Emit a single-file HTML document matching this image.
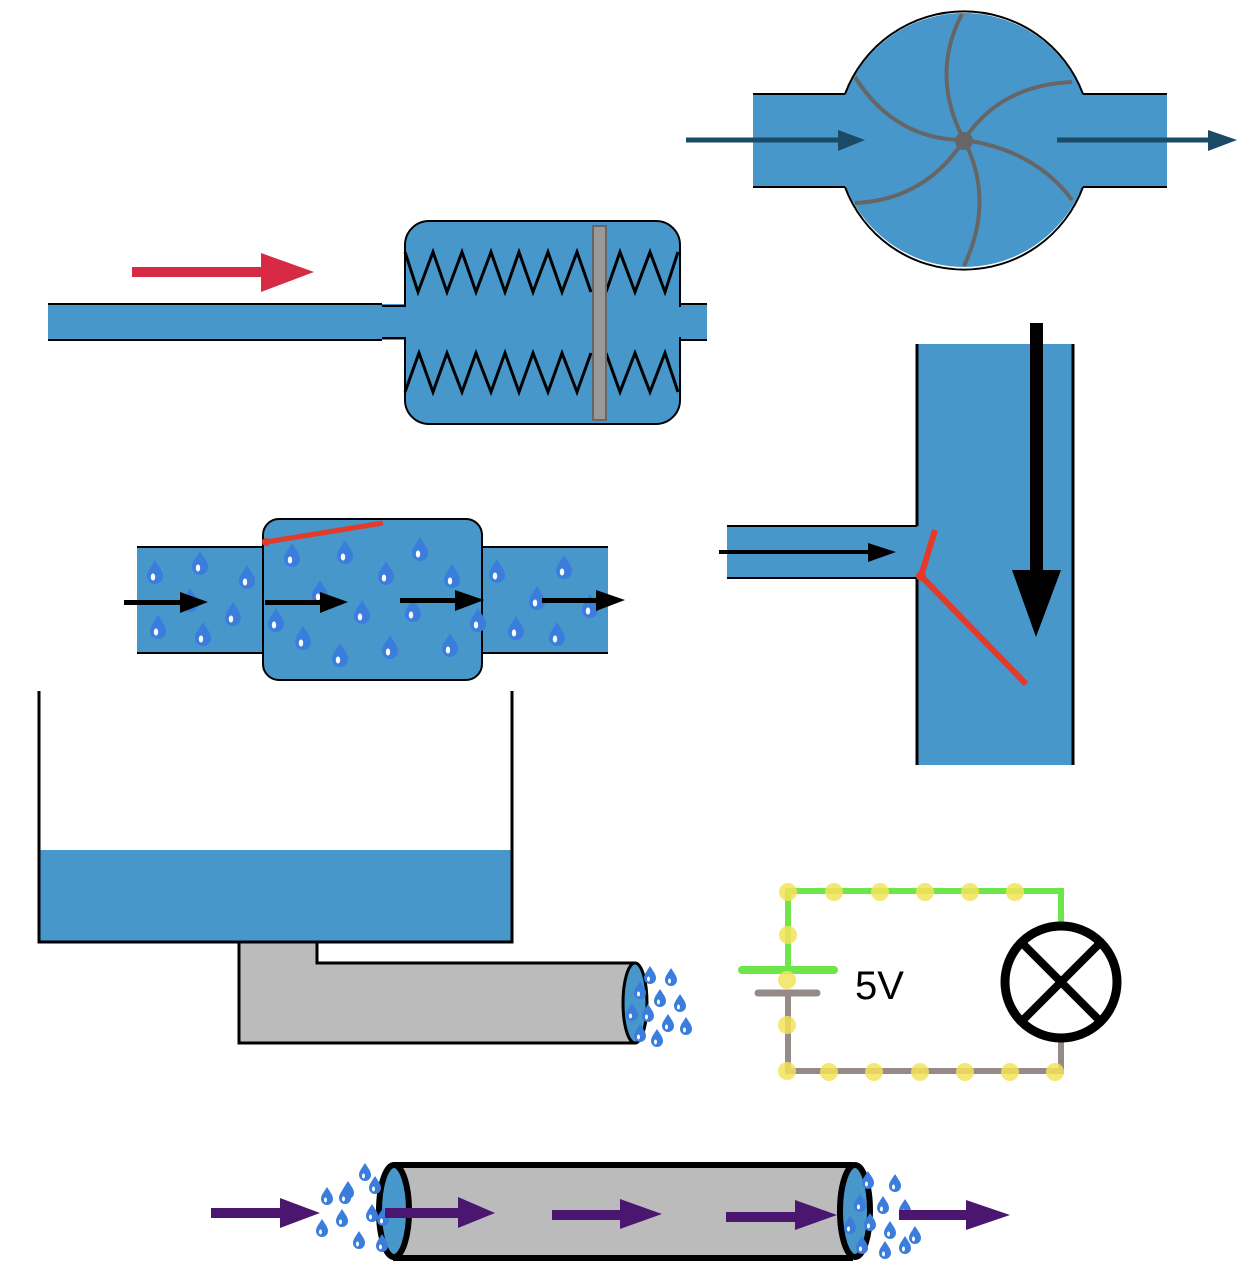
<!DOCTYPE html>
<html><head><meta charset="utf-8"><style>html,body{margin:0;padding:0;background:#fff}svg{display:block}</style></head>
<body>
<svg width="1250" height="1274" viewBox="0 0 1250 1274" xmlns="http://www.w3.org/2000/svg">
<defs>
<g id="d"><path d="M0,-12 C4,-5 8,-1 8,4 A8,8 0 0 1 -8,4 C-8,-1 -4,-5 0,-12 Z" fill="#3b7ddd"/><ellipse cx="-2" cy="5" rx="2.2" ry="3.5" fill="#fff"/></g>
<g id="s"><path d="M0,-9 C3,-4 6,-1 6,3 A6,6 0 0 1 -6,3 C-6,-1 -3,-4 0,-9 Z" fill="#3b7ddd"/><ellipse cx="-1.5" cy="4" rx="1.5" ry="2.5" fill="#fff"/></g>
</defs>
<!-- pump -->
<rect x="753" y="94" width="414" height="93" fill="#4797cb"/>
<line x1="753" y1="94" x2="845" y2="94" stroke="#000" stroke-width="2"/>
<line x1="753" y1="187" x2="845" y2="187" stroke="#000" stroke-width="2"/>
<line x1="1083" y1="94" x2="1167" y2="94" stroke="#000" stroke-width="2"/>
<line x1="1083" y1="187" x2="1167" y2="187" stroke="#000" stroke-width="2"/>
<circle cx="964" cy="140" r="127" fill="#4797cb"/>
<path d="M845,94 A127,127 0 0 1 1083,94" fill="none" stroke="#000" stroke-width="2"/>
<path d="M845,187 A127,127 0 0 0 1083,187" fill="none" stroke="#000" stroke-width="2"/>
<g fill="none" stroke="#666" stroke-width="4">
<path d="M964,140 Q930,75 962,14"/>
<path d="M964,140 Q1000,85 1072,82"/>
<path d="M964,140 Q1035,150 1072,200"/>
<path d="M964,140 Q995,200 964,266"/>
<path d="M964,140 Q925,200 855,203"/>
<path d="M964,140 Q895,140 855,77"/>
</g>
<circle cx="964" cy="141" r="9" fill="#666"/>
<line x1="686" y1="140" x2="845" y2="140" stroke="#1a4a66" stroke-width="5"/>
<polygon points="838,130 865,140 838,151" fill="#1a4a66"/>
<line x1="1057" y1="140" x2="1215" y2="140" stroke="#1a4a66" stroke-width="5"/>
<polygon points="1208,130 1237,140 1208,151" fill="#1a4a66"/>
<!-- damper -->
<rect x="48" y="304" width="360" height="36" fill="#4797cb"/>
<line x1="48" y1="304" x2="382" y2="304" stroke="#000" stroke-width="2"/>
<line x1="48" y1="340" x2="382" y2="340" stroke="#000" stroke-width="2"/>
<line x1="382" y1="306" x2="405" y2="306" stroke="#000" stroke-width="2"/>
<line x1="382" y1="338" x2="405" y2="338" stroke="#000" stroke-width="2"/>
<rect x="678" y="304" width="29" height="36" fill="#4797cb"/>
<line x1="680" y1="304" x2="707" y2="304" stroke="#000" stroke-width="2"/>
<line x1="680" y1="340" x2="707" y2="340" stroke="#000" stroke-width="2"/>
<rect x="405" y="221" width="275" height="203" rx="24" fill="#4797cb" stroke="#000" stroke-width="2"/>
<rect x="404" y="307" width="277" height="30" fill="#4797cb"/>
<g fill="none" stroke="#000" stroke-width="3" stroke-linejoin="miter">
<polyline points="405,252 418,292 433,252 447,292 462,252 476,292 491,252 505,292 519,252 533,292 548,252 562,292 577,252 591,292"/>
<polyline points="606,292 620,252 635,292 650,252 665,292 678,252"/>
<polyline points="405,392 419,353 433,392 447,353 462,392 476,353 491,392 505,353 519,392 533,353 548,392 562,353 577,392 591,353"/>
<polyline points="606,353 620,392 635,353 650,392 665,353 678,392"/>
</g>
<rect x="593" y="226" width="13" height="194" fill="#999" stroke="#666" stroke-width="2"/>
<line x1="132" y1="272" x2="265" y2="272" stroke="#d62a45" stroke-width="10"/>
<polygon points="261,253 314,272 261,292" fill="#d62a45"/>
<!-- check valve pipe -->
<rect x="137" y="547" width="471" height="106" fill="#4797cb"/>
<rect x="263" y="519" width="219" height="161" rx="16" fill="#4797cb" stroke="#000" stroke-width="2"/>
<rect x="264" y="548" width="217" height="104" fill="#4797cb"/>
<line x1="137" y1="547" x2="263" y2="547" stroke="#000" stroke-width="2"/>
<line x1="137" y1="653" x2="263" y2="653" stroke="#000" stroke-width="2"/>
<line x1="482" y1="547" x2="608" y2="547" stroke="#000" stroke-width="2"/>
<line x1="482" y1="653" x2="608" y2="653" stroke="#000" stroke-width="2"/>
<line x1="266" y1="542" x2="383" y2="523" stroke="#e33a2a" stroke-width="5"/>
<circle cx="266" cy="542" r="4" fill="#e33a2a"/>
<g>
<use href="#d" x="155" y="572"/><use href="#d" x="200" y="563"/><use href="#d" x="247" y="577"/><use href="#d" x="233" y="614"/>
<use href="#d" x="158" y="627"/><use href="#d" x="203" y="634"/><use href="#d" x="292" y="555"/><use href="#d" x="345" y="552"/>
<use href="#d" x="420" y="549"/><use href="#d" x="386" y="573"/><use href="#d" x="452" y="576"/><use href="#d" x="497" y="571"/>
<use href="#d" x="564" y="567"/><use href="#d" x="537" y="598"/><use href="#d" x="590" y="606"/><use href="#d" x="276" y="620"/>
<use href="#d" x="303" y="638"/><use href="#d" x="340" y="655"/><use href="#d" x="390" y="647"/><use href="#d" x="450" y="645"/>
<use href="#d" x="478" y="620"/><use href="#d" x="516" y="628"/><use href="#d" x="557" y="634"/><use href="#d" x="320" y="592"/>
<use href="#d" x="362" y="612"/><use href="#d" x="413" y="610"/><use href="#d" x="190" y="600"/>
</g>
<g fill="#000">
<rect x="124" y="600" width="62" height="5"/><polygon points="180,592 208,602 180,613"/>
<rect x="265" y="600" width="62" height="5"/><polygon points="320,592 348,602 320,613"/>
<rect x="400" y="598" width="62" height="5"/><polygon points="455,590 484,600 455,611"/>
<rect x="542" y="598" width="60" height="5"/><polygon points="596,590 625,600 596,611"/>
</g>
<!-- T pipe -->
<rect x="916" y="344" width="157" height="421" fill="#4797cb"/>
<rect x="727" y="526" width="191" height="52" fill="#4797cb"/>
<line x1="917" y1="344" x2="917" y2="526" stroke="#000" stroke-width="3"/>
<line x1="917" y1="578" x2="917" y2="765" stroke="#000" stroke-width="3"/>
<line x1="1073" y1="344" x2="1073" y2="765" stroke="#000" stroke-width="3"/>
<line x1="727" y1="526" x2="917" y2="526" stroke="#000" stroke-width="2"/>
<line x1="727" y1="578" x2="917" y2="578" stroke="#000" stroke-width="2"/>
<rect x="1030" y="323" width="13" height="260" fill="#000"/>
<polygon points="1012,570 1061,570 1036,637" fill="#000"/>
<line x1="719" y1="552" x2="875" y2="552" stroke="#000" stroke-width="4"/>
<polygon points="868,543 896,552 868,562" fill="#000"/>
<polyline points="935,530 921,576 1026,684" fill="none" stroke="#e33a2a" stroke-width="6"/>
<circle cx="921" cy="576" r="5" fill="#e33a2a"/>
<!-- tank -->
<rect x="40" y="850" width="472" height="92" fill="#4797cb"/>
<polyline points="39,691 39,942 512,942 512,691" fill="none" stroke="#000" stroke-width="3"/>
<polygon points="239,942 317,942 317,963 635,963 635,1043 239,1043" fill="#bbb" stroke="#000" stroke-width="3"/>
<ellipse cx="635" cy="1003" rx="12" ry="40" fill="#4797cb" stroke="#000" stroke-width="3"/>
<g>
<use href="#s" x="650" y="975"/><use href="#s" x="671" y="977"/><use href="#s" x="640" y="990"/><use href="#s" x="660" y="998"/>
<use href="#s" x="680" y="1003"/><use href="#s" x="632" y="1012"/><use href="#s" x="648" y="1013"/><use href="#s" x="668" y="1023"/>
<use href="#s" x="686" y="1026"/><use href="#s" x="640" y="1033"/><use href="#s" x="657" y="1038"/>
</g>
<!-- circuit -->
<g fill="none" stroke-width="6" stroke-linecap="round">
<polyline points="788,970 788,891 1061,891 1061,926" stroke="#6ee64a"/>
<line x1="742" y1="970" x2="834" y2="970" stroke="#6ee64a" stroke-width="8"/>
<line x1="758" y1="993" x2="817" y2="993" stroke="#968a88" stroke-width="7"/>
<polyline points="788,993 788,1071 1061,1071 1061,1040" stroke="#968a88"/>
</g>
<circle cx="1061" cy="982" r="56" fill="#fff" stroke="#000" stroke-width="9"/>
<line x1="1022" y1="943" x2="1100" y2="1021" stroke="#000" stroke-width="8"/>
<line x1="1100" y1="943" x2="1022" y2="1021" stroke="#000" stroke-width="8"/>
<g fill="#f3e35a" opacity="0.85">
<circle cx="788" cy="892" r="9"/><circle cx="834" cy="892" r="9"/><circle cx="880" cy="892" r="9"/><circle cx="925" cy="892" r="9"/><circle cx="970" cy="892" r="9"/><circle cx="1015" cy="892" r="9"/>
<circle cx="788" cy="935" r="9"/><circle cx="787" cy="980" r="9"/><circle cx="787" cy="1025" r="9"/>
<circle cx="787" cy="1071" r="9"/><circle cx="829" cy="1072" r="9"/><circle cx="874" cy="1072" r="9"/><circle cx="920" cy="1072" r="9"/><circle cx="965" cy="1072" r="9"/><circle cx="1010" cy="1072" r="9"/><circle cx="1055" cy="1072" r="9"/>
</g>
<text x="855" y="999" font-family="Liberation Sans, sans-serif" font-size="40" fill="#000">5V</text>
<!-- bottom tube -->
<rect x="393" y="1165" width="460" height="93" fill="#bbb"/>
<line x1="393" y1="1165" x2="853" y2="1165" stroke="#000" stroke-width="6"/>
<line x1="393" y1="1258" x2="853" y2="1258" stroke="#000" stroke-width="6"/>
<ellipse cx="394" cy="1211" rx="15" ry="46" fill="#4797cb" stroke="#000" stroke-width="6"/>
<ellipse cx="855" cy="1211" rx="15" ry="46" fill="#4797cb" stroke="#000" stroke-width="6"/>
<g>
<use href="#s" x="365" y="1172"/><use href="#s" x="348" y="1190"/><use href="#s" x="327" y="1196"/><use href="#s" x="375" y="1185"/>
<use href="#s" x="372" y="1213"/><use href="#s" x="342" y="1218"/><use href="#s" x="322" y="1228"/><use href="#s" x="359" y="1240"/>
<use href="#s" x="383" y="1217"/><use href="#s" x="382" y="1243"/><use href="#s" x="345" y="1195"/>
<use href="#s" x="868" y="1180"/><use href="#s" x="895" y="1183"/><use href="#s" x="860" y="1203"/><use href="#s" x="883" y="1205"/>
<use href="#s" x="905" y="1208"/><use href="#s" x="870" y="1222"/><use href="#s" x="890" y="1230"/><use href="#s" x="915" y="1235"/>
<use href="#s" x="862" y="1245"/><use href="#s" x="885" y="1250"/><use href="#s" x="905" y="1245"/><use href="#s" x="850" y="1225"/>
</g>
<g fill="#4a1670">
<rect x="211" y="1208" width="75" height="10"/><polygon points="280,1198 320,1213 280,1228"/>
<rect x="385" y="1208" width="78" height="10"/><polygon points="458,1197 495,1213 458,1228"/>
<rect x="552" y="1210" width="75" height="10"/><polygon points="620,1199 662,1214 620,1229"/>
<rect x="726" y="1212" width="75" height="10"/><polygon points="795,1200 837,1215 795,1230"/>
<rect x="899" y="1210" width="72" height="10"/><polygon points="966,1200 1010,1215 966,1230"/>
</g>
</svg>
</body></html>
